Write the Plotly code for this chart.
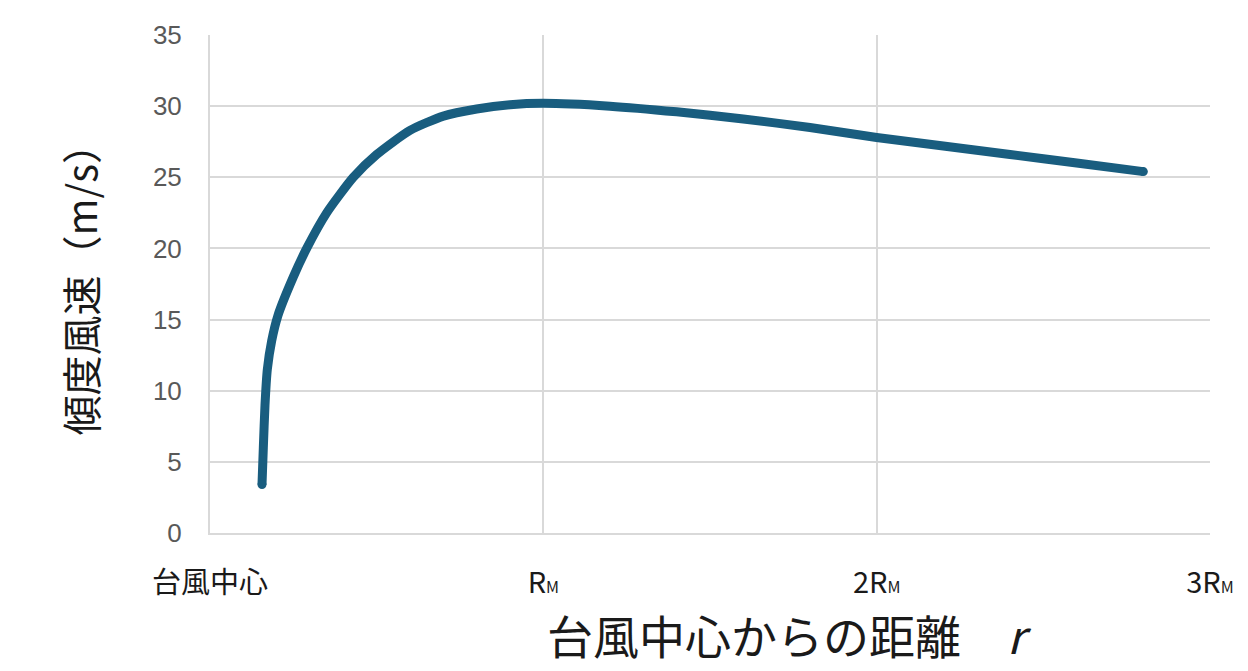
import plotly.graph_objects as go

# distance from the typhoon centre, in units of RM
r = [0.156, 0.160, 0.165, 0.172, 0.185, 0.204, 0.25, 0.29, 0.35, 0.43, 0.50,
     0.60, 0.70, 0.80, 0.90, 1.00, 1.20, 1.40, 1.60, 1.80, 2.00, 2.20,
     2.40, 2.60, 2.80]
# gradient wind speed (m/s)
v = [3.4, 6.0, 9.0, 11.5, 13.5, 15.3, 18.0, 20.0, 22.5, 25.0, 26.6,
     28.3, 29.3, 29.8, 30.1, 30.2, 30.0, 29.6, 29.1, 28.5, 27.8, 27.2,
     26.6, 26.0, 25.4]

x_ticks = [0, 1, 2, 3]
x_labels = ["台風中心",
            "R<span style='font-size:16px'>M</span>",
            "2R<span style='font-size:16px'>M</span>",
            "3R<span style='font-size:16px'>M</span>"]
y_ticks = [0, 5, 10, 15, 20, 25, 30, 35]

line_color = "#195d7f"
grid = "#d9d9d9"

fig = go.Figure()
fig.add_trace(go.Scatter(
    x=r, y=v, mode="lines",
    line=dict(color=line_color, width=9, shape="spline", smoothing=0.6),
    showlegend=False,
))
# round ends of the line
fig.add_trace(go.Scatter(
    x=[r[0], r[-1]], y=[v[0], v[-1]], mode="markers",
    marker=dict(color=line_color, size=9),
    showlegend=False,
))

fig.update_layout(
    width=1248, height=671,
    margin=dict(l=202, r=46, t=22, b=146),
    paper_bgcolor="white", plot_bgcolor="white",
    font=dict(family="Liberation Sans, Noto Sans CJK JP, sans-serif"),
    xaxis=dict(
        range=[0, 3], tickvals=x_ticks, ticktext=x_labels,
        showgrid=True, gridcolor=grid, gridwidth=2,
        showline=True, linecolor=grid, linewidth=2,
        zeroline=False, ticks="", ticklabelstandoff=23,
        tickfont=dict(size=29, color="#1a1a1a",
                      family="Noto Sans CJK JP, Liberation Sans, sans-serif"),
    ),
    yaxis=dict(
        range=[0, 35], tickvals=y_ticks,
        showgrid=True, gridcolor=grid, gridwidth=2,
        showline=True, linecolor=grid, linewidth=2,
        zeroline=False, ticks="", ticklabelstandoff=21,
        tickfont=dict(size=26, color="#595959", family="Liberation Sans, sans-serif"),
    ),
    annotations=[
        dict(text="台風中心からの距離　<i>r</i>", xref="paper", yref="paper",
             x=0.579, y=0, yshift=-101, showarrow=False, xanchor="center",
             yanchor="middle",
             font=dict(size=46, color="#1a1a1a",
                       family="Noto Sans CJK JP, sans-serif")),
        dict(text="傾度風速（m/s）", xref="paper", yref="paper",
             x=0, xshift=-130, y=0.507, showarrow=False, textangle=-90,
             xanchor="center", yanchor="middle",
             font=dict(size=40, color="#1a1a1a",
                       family="Noto Sans CJK JP, sans-serif")),
    ],
)

fig.write_html("out.html")
